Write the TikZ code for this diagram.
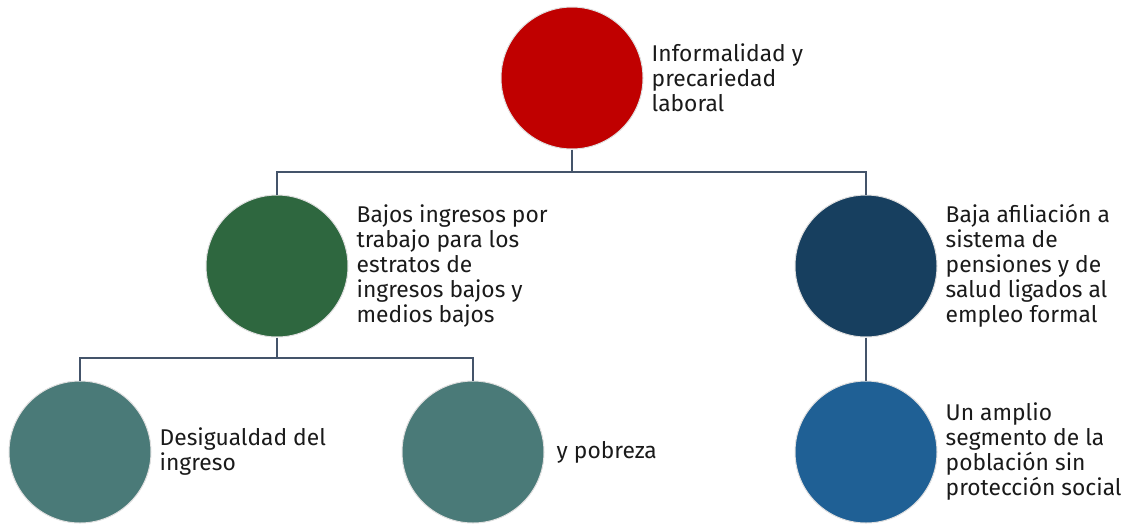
\documentclass[tikz,border=0pt]{standalone}
\usepackage{fontspec}
\setmainfont{Fira Sans}
\definecolor{cRed}{HTML}{C00000}
\definecolor{cGreen}{HTML}{2E673F}
\definecolor{cNavy}{HTML}{173F5F}
\definecolor{cTeal}{HTML}{4A7A78}
\definecolor{cBlue}{HTML}{1F6095}
\definecolor{cLine}{HTML}{44546A}
\definecolor{cText}{HTML}{1A1A1A}
\tikzset{
  bubble/.style={circle, minimum size=142pt, inner sep=0pt, draw=gray!25, line width=1pt},
  lbl/.style={anchor=west, align=left, inner sep=0pt, text=cText, font=\fontsize{22.8}{25}\selectfont},
  conn/.style={draw=cLine, line width=1.4pt}
}
\begin{document}
\begin{tikzpicture}[x=1pt,y=-1pt]
\useasboundingbox (0,0) rectangle (1130,525);
\node[bubble, fill=cRed]   (top)   at (572,78)  {};
\node[bubble, fill=cGreen] (green) at (277,266) {};
\node[bubble, fill=cNavy]  (navy)  at (866,266) {};
\node[bubble, fill=cTeal]  (des)   at (80,452)  {};
\node[bubble, fill=cTeal]  (pob)   at (473,452) {};
\node[bubble, fill=cBlue]  (seg)   at (866,452) {};

\node[lbl] (ttop) at ([xshift=8pt]top.east) {Informalidad y\\precariedad\\laboral};
\node[lbl] (tgreen) at ([xshift=8pt]green.east) {Bajos ingresos por\\trabajo para los\\estratos de\\ingresos bajos y\\medios bajos};
\node[lbl] (tnavy) at ([xshift=8pt]navy.east) {Baja afiliación a\\sistema de\\pensiones y de\\salud ligados al\\empleo formal};
\node[lbl] (tdes) at ([xshift=8pt]des.east) {Desigualdad del\\ingreso};
\node[lbl] (tpob) at ([xshift=12pt]pob.east) {y pobreza};
\node[lbl] (tseg) at ([xshift=8pt]seg.east) {Un amplio\\segmento de la\\población sin\\protección social};

\coordinate (bus1) at (0,172);
\coordinate (bus2) at (0,358);
\draw[conn] (top.south) -- (top.south |- bus1) -| (green.north);
\draw[conn] (top.south |- bus1) -| (navy.north);
\draw[conn] (green.south) -- (green.south |- bus2) -| (des.north);
\draw[conn] (green.south |- bus2) -| (pob.north);
\draw[conn] (navy.south) -- (seg.north);
\end{tikzpicture}
\end{document}
